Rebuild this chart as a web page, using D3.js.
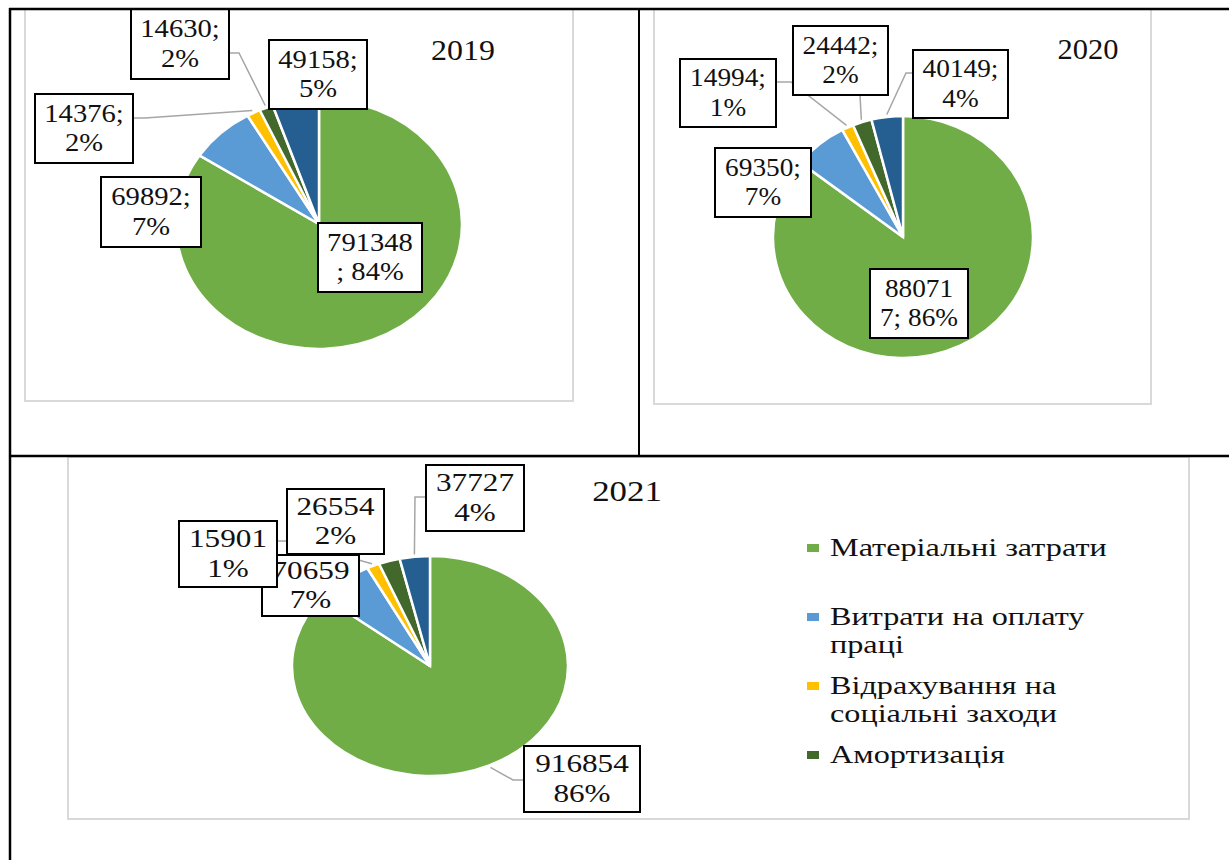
<!DOCTYPE html>
<html>
<head>
<meta charset="utf-8">
<script src="https://cdn.jsdelivr.net/npm/d3@7/dist/d3.min.js"></script>
<style>
  body { margin: 0; background: #fff; }
  text { font-family: "Liberation Serif", "Times New Roman", serif; fill: #111; }
</style>
</head>
<body>
<svg id="chart" width="1229" height="860"></svg>
<script>
// ---- data ----
const categories = [
    "Матеріальні затрати",
    "Витрати на оплату праці",
    "Відрахування на соціальні заходи",
    "Амортизація",
    "Інші операційні витрати"
];
const years = ["2019", "2020", "2021"];
const values2019 = [791348, 69892, 14376, 14630, 49158];
const values2020 = [880717, 69350, 14994, 24442, 40149];
const values2021 = [916854, 70659, 15901, 26554, 37727];
const colors = ["#70AD47", "#5B9BD5", "#FFC000", "#43682B", "#255E91"];

// ---- layout (label boxes were placed by hand in the original) ----
const panels = [
    {
        year: years[0], values: values2019, sep: "; ",
        cx: 319, cy: 224, rx: 143, ry: 125, sx: 1.1,
        frame: [25, 9, 548, 392], title: [463, 60],
        boxes: [
            { r: [318, 223, 104, 69], brk: 6 },
            { r: [101, 177, 100, 70] },
            { r: [35, 94, 98, 69], lead: [[133, 118], [145, 118]] },
            { r: [131, 9, 98, 70], lead: [[229, 53], [239, 53]] },
            { r: [269, 40, 98, 69] }
        ]
    },
    {
        year: years[1], values: values2020, sep: "; ",
        cx: 903, cy: 237, rx: 130, ry: 121, sx: 1.05,
        frame: [654, 9, 497, 395], title: [1088, 59],
        boxes: [
            { r: [870, 269, 98, 69], brk: 5 },
            { r: [715, 148, 96, 69] },
            { r: [680, 59, 96, 68], lead: [[776, 82], [791, 82]] },
            { r: [793, 26, 95, 69], lead: [[860, 95]] },
            { r: [913, 50, 95, 68], lead: [[913, 73], [906, 73]] }
        ]
    },
    {
        year: years[2], values: values2021, sep: " ",
        cx: 430, cy: 666, rx: 138, ry: 110, sx: 1.2,
        frame: [68, 457, 1121, 362], title: [627, 501],
        boxes: [
            { r: [524, 746, 116, 66], lead: [[524, 780], [513, 780]] },
            { r: [262, 555, 97, 61] },
            { r: [179, 521, 98, 66], lead: [[277, 541], [290, 541]] },
            { r: [287, 489, 97, 65] },
            { r: [426, 465, 98, 66], lead: [[426, 497], [415, 497]] }
        ]
    }
];

const svg = d3.select("#chart");

// stretched text helper (the source image is widened horizontally)
function stretchText(g, x, y, s, size, str, anchor) {
    return g.append("text")
        .attr("transform", "translate(" + x + "," + y + ") scale(" + s + ",1)")
        .attr("text-anchor", anchor || "middle")
        .style("font-size", size + "px")
        .text(str);
}

const pie = d3.pie().sort(null).value(d => d);

panels.forEach(p => {
    const g = svg.append("g");
    // chart area frame
    g.append("rect")
        .attr("x", p.frame[0]).attr("y", p.frame[1])
        .attr("width", p.frame[2]).attr("height", p.frame[3])
        .attr("fill", "#fff").attr("stroke", "#d9d9d9").attr("stroke-width", 2);

    const total = d3.sum(p.values);
    const arcs = pie(p.values);
    const arc = d3.arc().innerRadius(0).outerRadius(p.ry);
    const k = p.rx / p.ry;

    g.append("g")
        .attr("transform", "translate(" + p.cx + "," + p.cy + ") scale(" + k + ",1)")
        .selectAll("path")
        .data(arcs)
        .enter()
        .append("path")
        .attr("d", arc)
        .attr("fill", (d, i) => colors[i])
        .attr("stroke", "#fff")
        .attr("stroke-width", 2.5)
        .attr("vector-effect", "non-scaling-stroke");

    // leader lines
    arcs.forEach((a, i) => {
        const b = p.boxes[i];
        if (!b.lead) return;
        const mid = (a.startAngle + a.endAngle) / 2;
        const end = [p.cx + p.rx * 1.02 * Math.sin(mid), p.cy - p.ry * 1.02 * Math.cos(mid)];
        g.append("path")
            .attr("d", d3.line()(b.lead.concat([end])))
            .attr("fill", "none")
            .attr("stroke", "#a6a6a6")
            .attr("stroke-width", 1.5);
    });

    // data labels
    arcs.forEach((a, i) => {
        const b = p.boxes[i];
        const pct = Math.round(a.data / total * 100);
        const s = a.data + p.sep + pct + "%";
        let lines;
        if (b.brk) lines = [s.slice(0, b.brk), s.slice(b.brk)];
        else {
            const at = s.indexOf(" ");
            lines = [s.slice(0, at), s.slice(at + 1)];
        }
        const [x, y, w, h] = b.r;
        g.append("rect")
            .attr("x", x).attr("y", y).attr("width", w).attr("height", h)
            .attr("fill", "#fff").attr("stroke", "#000").attr("stroke-width", 2);
        const base = y + h / 2 - 7;
        lines.forEach((t, j) => {
            stretchText(g, x + w / 2, base + j * 29.5, p.sx, 26, t);
        });
    });

    stretchText(g, p.title[0], p.title[1], p.sx, 29, p.year);
});

// ---- legend (only four entries are visible in the source) ----
const legend = svg.append("g");
const legendY = d3.scaleLinear().domain([0, 1]).range([556, 625]);
const wrapWidth = 295, legendS = 1.24;
categories.slice(0, 4).forEach((c, i) => {
    const y = legendY(i);
    legend.append("rect")
        .attr("x", 807).attr("y", y - 12).attr("width", 12).attr("height", 8)
        .attr("fill", colors[i]);
    // simple word wrap
    const probe = stretchText(legend, 0, -100, 1, 26, "", "start");
    const words = c.split(" ");
    const lines = [];
    let cur = "";
    words.forEach(wd => {
        const test = cur ? cur + " " + wd : wd;
        probe.text(test);
        if (probe.node().getComputedTextLength() * legendS > wrapWidth && cur) {
            lines.push(cur);
            cur = wd;
        } else cur = test;
    });
    lines.push(cur);
    probe.remove();
    lines.forEach((t, j) => {
        stretchText(legend, 830, y + j * 28, legendS, 26, t, "start");
    });
});

// ---- table grid lines ----
const grid = svg.append("g").attr("stroke", "#000").attr("stroke-width", 2.5);
grid.append("line").attr("x1", 9).attr("x2", 1229).attr("y1", 9).attr("y2", 9);
grid.append("line").attr("x1", 9).attr("x2", 1229).attr("y1", 456).attr("y2", 456);
grid.append("line").attr("x1", 10).attr("x2", 10).attr("y1", 8).attr("y2", 860);
grid.append("line").attr("x1", 639).attr("x2", 639).attr("y1", 9).attr("y2", 456).attr("stroke-width", 2);
</script>
</body>
</html>
